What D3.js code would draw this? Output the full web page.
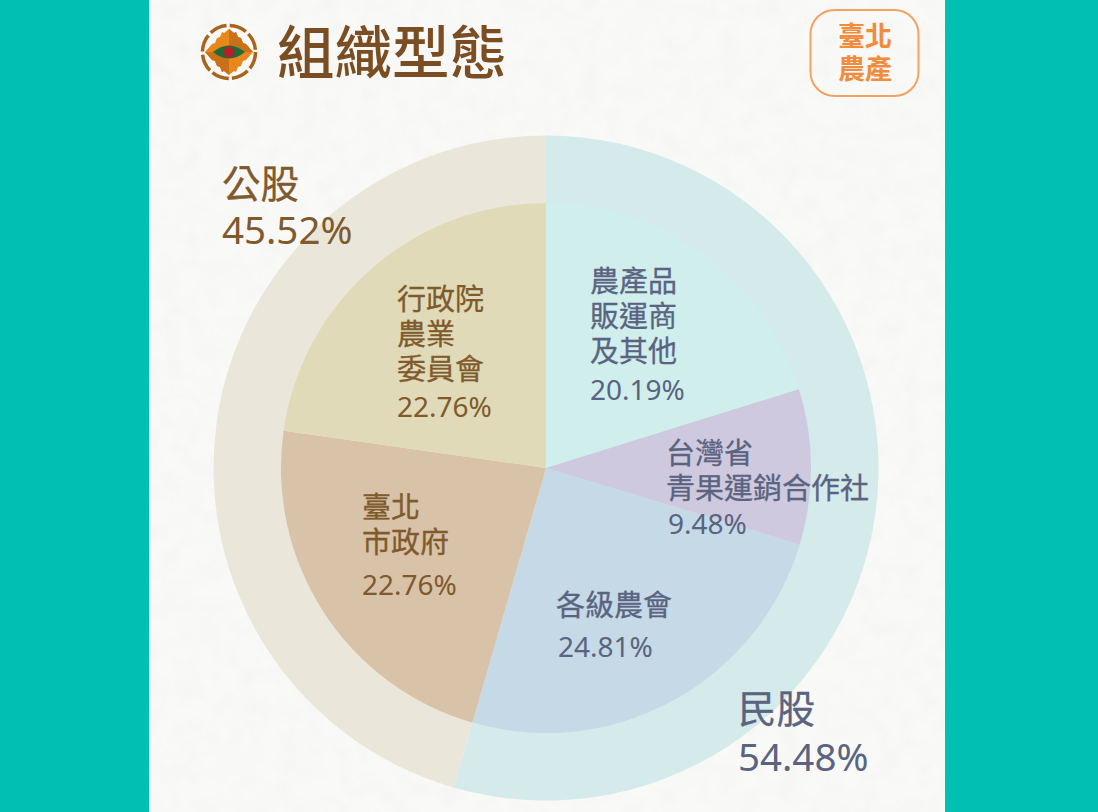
<!DOCTYPE html>
<html>
<head>
<meta charset="utf-8">
<script src="https://cdn.jsdelivr.net/npm/d3@7"></script>
<style>
html,body{margin:0;padding:0;background:#00bfb3;overflow:hidden}
svg{display:block}
text{font-family:"Noto Sans CJK TC","Noto Sans",sans-serif}
.num{font-family:"Noto Sans","Noto Sans CJK TC",sans-serif}
</style>
</head>
<body>
<svg id="uno"></svg>
<script>
let outerNames=["民股","公股"];
let outerValues=[54.48,45.52];
let outerColors=["#d5eaea","#eae7da"];

let innerNames=["農產品 販運商 及其他","台灣省 青果運銷合作社","各級農會","臺北 市政府","行政院 農業 委員會"];
let innerValues=[20.19,9.48,24.81,22.76,22.76];
let innerColors=["#cfeeec","#cec9de","#c5d9e7","#d8c2a8","#e1dab9"];

let labelX=[590,666,556,362,397];
let labelY=[292,464,616,518,310];
let pctX=[590,668,558,362,397];
let pctY=[400,534,657,595,417];
let labelColors=["#5a6480","#5a6480","#5a6480","#7f5a2d","#7f5a2d"];

let misvg=d3.select("#uno").attr("width",1098).attr("height",812);

// textura del papel
let filtro=misvg.append("defs").append("filter").attr("id","papel").attr("x",0).attr("y",0).attr("width","100%").attr("height","100%");
filtro.append("feTurbulence").attr("type","fractalNoise").attr("baseFrequency",0.05).attr("numOctaves",4).attr("seed",7);
filtro.append("feColorMatrix").attr("type","matrix").attr("values","0 0 0 0 0.82  0 0 0 0 0.82  0 0 0 0 0.80  0.3 0.3 0 0 -0.24");
filtro.append("feComposite").attr("in2","SourceGraphic").attr("operator","over");

misvg.append("rect").attr("x",149).attr("y",0).attr("width",796).attr("height",812).attr("fill","#f9f9f7").attr("filter","url(#papel)");

let pie=d3.pie().sort(null).value(d=>d);
let g=misvg.append("g").attr("transform","translate(546,468)");

g.selectAll("path.outer")
.data(pie(outerValues))
.enter()
.append("path")
.attr("class","outer")
.attr("d",d3.arc().innerRadius(0).outerRadius(332.5))
.attr("fill",(d,i)=>outerColors[i]);

g.selectAll("path.inner")
.data(pie(innerValues))
.enter()
.append("path")
.attr("class","inner")
.attr("d",d3.arc().innerRadius(0).outerRadius(265))
.attr("fill",(d,i)=>innerColors[i]);

// etiquetas interiores
innerNames.forEach((n,i)=>{
  n.split(" ").forEach((line,j)=>{
    misvg.append("text")
    .attr("x",labelX[i])
    .attr("y",labelY[i]+j*35)
    .attr("font-size",29)
    .attr("stroke",labelColors[i])
    .attr("stroke-width",0.3)
    .attr("fill",labelColors[i])
    .text(line);
  });
  misvg.append("text")
  .attr("class","num")
  .attr("x",pctX[i])
  .attr("y",pctY[i])
  .attr("font-size",28)
  .attr("fill",labelColors[i])
  .text(innerValues[i].toFixed(2)+"%");
});

// etiquetas exteriores
let outX=[738,222],outY=[723,198],outPctY=[771,244],outCol=["#5a6480","#7f5a2d"];
outerNames.forEach((n,i)=>{
  misvg.append("text").attr("x",outX[i]).attr("y",outY[i]).attr("font-size",38.5).attr("stroke",outCol[i]).attr("stroke-width",0.3).attr("fill",outCol[i]).text(n);
  misvg.append("text").attr("class","num").attr("x",outX[i]).attr("y",outPctY[i]).attr("font-size",38.5).attr("fill",outCol[i]).text(outerValues[i].toFixed(2)+"%");
});

// titulo
misvg.append("text").attr("x",277).attr("y",74).attr("font-size",57.5).attr("font-weight",500).attr("fill","#7a4e22").text("組織型態");

// logo
let logo=misvg.append("g").attr("transform","translate(229,52)");
logo.append("circle").attr("r",26.5).attr("fill","none").attr("stroke","#a9641c").attr("stroke-width",3.5).attr("stroke-dasharray","17.5 3.3");
logo.append("path").attr("d","M0,-23L5,-19L7,-20L9,-15L12,-14L14,-9L17,-8L24,0L17,8L14,9L12,14L9,15L7,20L5,19L0,23L-5,19L-7,20L-9,15L-12,14L-14,9L-17,8L-24,0L-17,-8L-14,-9L-12,-14L-9,-15L-7,-20L-5,-19Z").attr("fill","#e8881a");
logo.append("path").attr("d","M0,-23L5,-19L7,-20L9,-15L12,-14L14,-9L17,-8L24,0L0,0Z").attr("fill","#c9701a");
logo.append("path").attr("d","M0,0L0,23L-5,19L-7,20L-9,15L-12,14L-14,9L-17,8L-24,0Z").attr("fill","#c9701a");
logo.append("path").attr("d","M-16,0Q0,-13 16,0Q0,13 -16,0Z").attr("fill","#1f6b3a");
logo.append("circle").attr("r",5.5).attr("fill","#b3202a");

// sello
misvg.append("rect").attr("x",810.5).attr("y",10).attr("width",108).attr("height",86).attr("rx",24).attr("fill","none").attr("stroke","#f4a261").attr("stroke-width",2);
["臺北","農產"].forEach((t,i)=>{
  misvg.append("text").attr("x",865).attr("y",46+i*33).attr("text-anchor","middle").attr("font-size",27).attr("font-weight",700).attr("fill","#f08c3c").text(t);
});
</script>
</body>
</html>
